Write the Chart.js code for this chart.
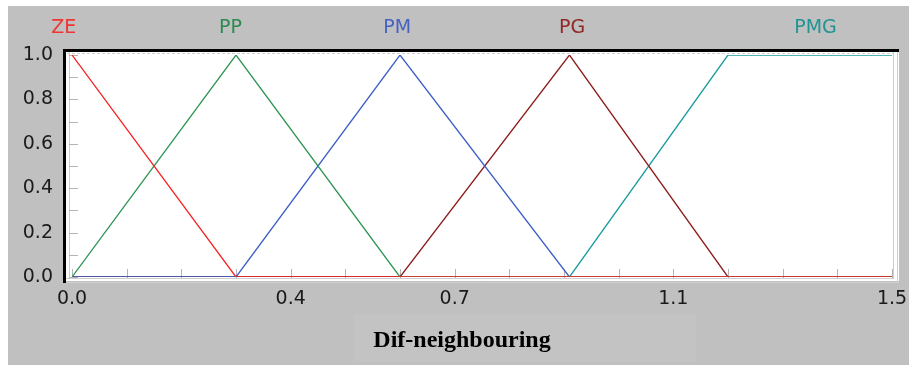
<!DOCTYPE html>
<html>
<head>
<meta charset="utf-8">
<script src="https://cdn.jsdelivr.net/npm/chart.js@4/dist/chart.umd.min.js"></script>
<style>
  html, body { margin: 0; padding: 0; background: #fff; }
  canvas { display: block; }
</style>
</head>
<body>
<canvas id="myChart" width="909" height="367"></canvas>
<script>
// fuzzy sets for Dif-neighbouring
let setNames = ["ZE", "PP", "PM", "PG", "PMG"];
let lineColors = ["#f52222", "#2e9555", "#3d5ec8", "#8c1c1c", "#1c9c9c"];
let nameColors = ["#f03535", "#2a8a50", "#4563c0", "#902828", "#219595"];
let nameAt = [-0.015, 0.29, 0.595, 0.915, 1.36];

let zeX = [0, 0.3, 1.5];          let zeY = [1, 0, 0];
let ppX = [0, 0.3, 0.6, 1.5];     let ppY = [0, 1, 0, 0];
let pmX = [0, 0.3, 0.6, 0.91, 1.5]; let pmY = [0, 0, 1, 0, 0];
let pgX = [0, 0.6, 0.91, 1.2, 1.5]; let pgY = [0, 0, 1, 0, 0];
let pmgX = [0, 0.91, 1.2, 1.5];   let pmgY = [0, 0, 1, 1];

let xTicks = [0, 0.1, 0.2, 0.3, 0.4, 0.5, 0.6, 0.7, 0.8, 0.9, 1.0, 1.1, 1.2, 1.3, 1.4, 1.5];
let xTickLabels = ["0.0", "", "", "", "0.4", "", "", "0.7", "", "", "", "1.1", "", "", "", "1.5"];
let yTicks = [0, 0.1, 0.2, 0.3, 0.4, 0.5, 0.6, 0.7, 0.8, 0.9, 1.0];
let yTickLabels = ["0.0", "", "0.2", "", "0.4", "", "0.6", "", "0.8", "", "1.0"];
let axisTitle = "Dif-neighbouring";

function pts(xs, ys) {
  return xs.map((x, i) => ({ x: x, y: ys[i] }));
}

let seriesPts = [pts(zeX, zeY), pts(ppX, ppY), pts(pmX, pmY), pts(pgX, pgY), pts(pmgX, pmgY)];

let framePlugin = {
  id: "frame",
  beforeDraw(chart) {
    let c = chart.ctx;
    let a = chart.chartArea;
    c.save();
    c.fillStyle = "#ffffff";
    c.fillRect(0, 0, chart.width, chart.height);
    c.fillStyle = "#c0c0c0";
    c.fillRect(8, 6, chart.width - 8, 359);
    c.fillStyle = "#c3c3c3";
    c.fillRect(354, 314, 342, 48);
    // white plot box
    c.fillStyle = "#ffffff";
    c.fillRect(a.left - 6, a.top - 3, a.right - a.left + 13, a.bottom - a.top + 7);
    // light inner lines
    c.strokeStyle = "#cfcfcf";
    c.lineWidth = 1;
    c.beginPath();
    c.moveTo(a.left - 2.5, a.top - 3); c.lineTo(a.left - 2.5, a.bottom + 2);
    c.moveTo(a.left - 6, a.bottom + 1.5); c.lineTo(a.right + 2, a.bottom + 1.5);
    c.moveTo(a.left - 6, a.bottom + 5.5); c.lineTo(a.right + 7, a.bottom + 5.5);
    c.moveTo(a.right + 1.5, a.top - 3); c.lineTo(a.right + 1.5, a.bottom + 2);
    c.moveTo(a.right + 5.5, a.top - 3); c.lineTo(a.right + 5.5, a.bottom + 6);
    c.stroke();
    c.setLineDash([3, 2]);
    c.beginPath();
    c.moveTo(a.left - 5, a.top - 1.5); c.lineTo(a.right + 1, a.top - 1.5);
    c.stroke();
    c.setLineDash([]);
    // short tick marks inside the plot
    let xs = chart.scales.x, ys = chart.scales.y;
    c.strokeStyle = "#b4b4b4";
    c.beginPath();
    xs.ticks.forEach(t => {
      let px = Math.round(xs.getPixelForValue(t.value)) + 0.5;
      c.moveTo(px, a.bottom + 1); c.lineTo(px, a.bottom - 8);
    });
    ys.ticks.forEach(t => {
      let py = Math.round(ys.getPixelForValue(t.value)) + 0.5;
      c.moveTo(a.left - 3, py); c.lineTo(a.left + 6, py);
    });
    c.stroke();
    c.restore();
  },
  afterDraw(chart) {
    let c = chart.ctx;
    let a = chart.chartArea;
    let xs = chart.scales.x;
    c.save();
    // black frame on top and left
    c.fillStyle = "#000000";
    c.fillRect(a.left - 9, a.top - 6, a.right - a.left + 16, 3);
    c.fillRect(a.left - 9, a.top - 6, 3, a.bottom - a.top + 12);
    // set names above the plot
    c.font = "19px 'DejaVu Sans'";
    c.textAlign = "center";
    c.textBaseline = "middle";
    setNames.forEach((n, i) => {
      c.fillStyle = nameColors[i];
      c.fillText(n, xs.getPixelForValue(nameAt[i]), 28);
    });
    // axis title
    c.fillStyle = "#000000";
    c.font = "bold 24px 'Liberation Serif'";
    c.textBaseline = "alphabetic";
    c.fillText(axisTitle, 462, 347);
    c.restore();
  }
};

let ctx = document.getElementById("myChart");
let myChart = new Chart(ctx, {
  type: "line",
  data: {
    datasets: setNames.map((n, i) => ({
      label: n,
      data: seriesPts[i],
      borderColor: lineColors[i],
      borderWidth: 1.3,
      pointRadius: 0,
      fill: false,
      tension: 0
    }))
  },
  options: {
    responsive: false,
    animation: false,
    devicePixelRatio: 1,
    layout: { padding: { left: 0, right: 17, top: 55, bottom: 0 } },
    plugins: { legend: { display: false }, tooltip: { enabled: false } },
    scales: {
      x: {
        type: "linear",
        min: 0,
        max: 1.5,
        afterBuildTicks: s => { s.ticks = xTicks.map(v => ({ value: v })); },
        afterFit: s => { s.height = 90; s.paddingLeft = 0; s.paddingRight = 0; },
        grid: { display: false, drawTicks: false },
        border: { display: false },
        ticks: {
          autoSkip: false,
          maxRotation: 0,
          padding: 11,
          color: "#1a1a1a",
          font: { family: "DejaVu Sans", size: 19 },
          callback: (v, i) => xTickLabels[i]
        }
      },
      y: {
        type: "linear",
        min: 0,
        max: 1,
        afterBuildTicks: s => { s.ticks = yTicks.map(v => ({ value: v })); },
        afterFit: s => { s.width = 72; s.paddingTop = 0; s.paddingBottom = 0; },
        grid: { display: false, drawTicks: false },
        border: { display: false },
        ticks: {
          autoSkip: false,
          padding: 19,
          color: "#1a1a1a",
          font: { family: "DejaVu Sans", size: 19 },
          callback: (v, i) => yTickLabels[i]
        }
      }
    }
  },
  plugins: [framePlugin]
});
</script>
</body>
</html>
